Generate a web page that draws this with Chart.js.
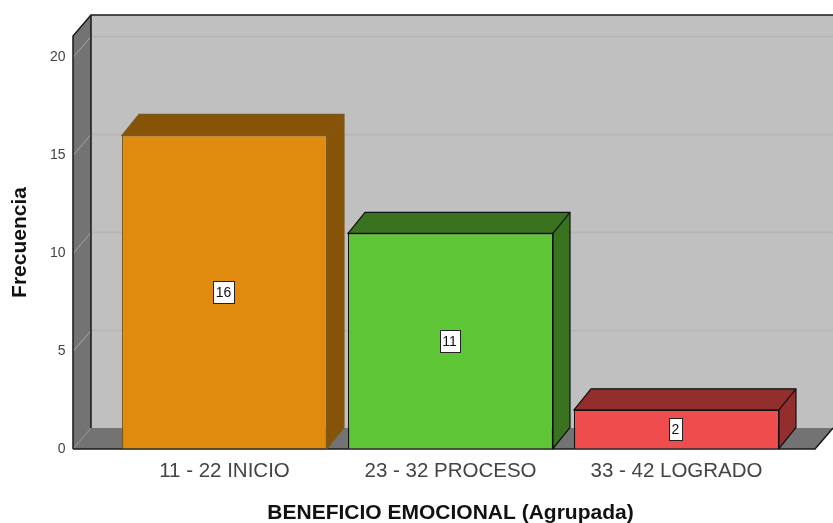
<!DOCTYPE html>
<html>
<head>
<meta charset="utf-8">
<style>
  html, body { margin: 0; padding: 0; background: #fff; overflow: hidden; }
  canvas { display: block; }
</style>
<script src="https://cdn.jsdelivr.net/npm/chart.js@4"></script>
</head>
<body>
<canvas id="Chart" width="833" height="523"></canvas>
<script>
const categories = ["11 - 22 INICIO", "23 - 32 PROCESO", "33 - 42 LOGRADO"];
const frecuencia = [16, 11, 2];
const yTicks = [0, 5, 10, 15, 20];
const frontColors = ["#E08A0E", "#5EC536", "#EF4D4D"];
const sideColors = ["#875407", "#3A7320", "#922E2E"];
const edgeColors = ["#7A5A20", "#111111", "#111111"];

// depth of the fake 3d box
const DX = 18;
const DY = 21;

const walls = {
  id: "walls",
  beforeDatasetsDraw(chart) {
    const { ctx, scales } = chart;
    const y = scales.y;
    const top = y.top;
    const bottom = y.bottom;
    const left = 73;
    const right = 815;

    ctx.save();
    // back wall
    ctx.fillStyle = "#C0C0C0";
    ctx.fillRect(left + DX, top - DY, right - left, bottom - top);

    // left wall
    ctx.fillStyle = "#737373";
    ctx.beginPath();
    ctx.moveTo(left, top);
    ctx.lineTo(left + DX, top - DY);
    ctx.lineTo(left + DX, bottom - DY);
    ctx.lineTo(left, bottom);
    ctx.closePath();
    ctx.fill();

    // floor
    ctx.beginPath();
    ctx.moveTo(left, bottom);
    ctx.lineTo(left + DX, bottom - DY);
    ctx.lineTo(right + DX, bottom - DY);
    ctx.lineTo(right, bottom);
    ctx.closePath();
    ctx.fill();

    // grid lines, back wall and left wall
    yTicks.forEach((t) => {
      if (t === 0) return;
      const py = Math.round(y.getPixelForValue(t)) + 0.5;
      ctx.lineWidth = 2;
      ctx.strokeStyle = "#B6B6B6";
      ctx.beginPath();
      ctx.moveTo(left + DX, py - DY);
      ctx.lineTo(right + DX, py - DY);
      ctx.stroke();
      ctx.lineWidth = 1;
      ctx.strokeStyle = "#A6A6A6";
      ctx.beginPath();
      ctx.moveTo(left, py);
      ctx.lineTo(left + DX, py - DY);
      ctx.stroke();
    });

    // floor seam
    ctx.lineWidth = 1;
    ctx.strokeStyle = "#8E8E8E";
    ctx.beginPath();
    ctx.moveTo(left + 0.5, bottom - 0.5);
    ctx.lineTo(left + DX, bottom - DY);
    ctx.stroke();

    // outlines
    ctx.lineWidth = 1.5;
    ctx.strokeStyle = "#1A1A1A";
    ctx.beginPath();
    ctx.moveTo(left, bottom);
    ctx.lineTo(left, top);
    ctx.lineTo(left + DX, top - DY);
    ctx.lineTo(right + DX, top - DY);
    ctx.moveTo(left + DX, top - DY);
    ctx.lineTo(left + DX, bottom - DY);
    ctx.moveTo(left, bottom);
    ctx.lineTo(right, bottom);
    ctx.lineTo(right + DX, bottom - DY);
    ctx.stroke();

    // bar sides and tops
    chart.getDatasetMeta(0).data.forEach((bar, i) => {
      const x0 = bar.x - bar.width / 2;
      const x1 = bar.x + bar.width / 2;
      const bdx = DX - 1;
      ctx.fillStyle = sideColors[i];
      ctx.strokeStyle = edgeColors[i];
      ctx.lineWidth = 1.2;
      ctx.beginPath();
      ctx.moveTo(x0, bar.y);
      ctx.lineTo(x0 + bdx, bar.y - DY);
      ctx.lineTo(x1 + bdx, bar.y - DY);
      ctx.lineTo(x1 + bdx, bar.base - DY);
      ctx.lineTo(x1, bar.base);
      ctx.lineTo(x1, bar.y);
      ctx.closePath();
      ctx.fill();
      ctx.stroke();
      ctx.beginPath();
      ctx.moveTo(x1, bar.y);
      ctx.lineTo(x1 + bdx, bar.y - DY);
      ctx.stroke();
    });
    ctx.restore();
  },
};

// white value boxes in the middle of each bar
const valueBoxes = {
  id: "valueBoxes",
  afterDatasetsDraw(chart) {
    const { ctx } = chart;
    ctx.save();
    ctx.font = "14px 'Liberation Sans'";
    ctx.textAlign = "center";
    ctx.textBaseline = "middle";
    chart.getDatasetMeta(0).data.forEach((bar, i) => {
      const label = String(frecuencia[i]);
      const w = Math.round(ctx.measureText(label).width) + 5;
      const h = 22;
      const cx = bar.x - 1;
      const cy = (bar.y + bar.base) / 2;
      const bx = Math.round(cx - w / 2) + 0.5;
      const by = Math.round(cy - h / 2) + 0.5;
      ctx.fillStyle = "#FFFFFF";
      ctx.strokeStyle = "#222222";
      ctx.lineWidth = 1;
      ctx.fillRect(bx, by, w, h);
      ctx.strokeRect(bx, by, w, h);
      ctx.fillStyle = "#111111";
      ctx.fillText(label, cx, cy + 1);
    });
    ctx.restore();
  },
};

new Chart(document.getElementById("Chart").getContext("2d"), {
  type: "bar",
  data: {
    labels: categories,
    datasets: [
      {
        label: "Frecuencia",
        data: frecuencia,
        backgroundColor: frontColors,
        borderColor: edgeColors,
        borderWidth: 1.2,
        categoryPercentage: 1,
        barPercentage: 0.907,
      },
    ],
  },
  options: {
    responsive: false,
    animation: false,
    layout: { padding: { top: 36, right: 43.5, left: 0, bottom: 0 } },
    plugins: { legend: { display: false }, tooltip: { enabled: false } },
    scales: {
      x: {
        grid: { display: false },
        border: { display: false },
        ticks: {
          color: "#444444",
          font: { family: "'Liberation Sans'", size: 20.5 },
          padding: 2,
          maxRotation: 0,
        },
        title: {
          display: true,
          text: "BENEFICIO EMOCIONAL (Agrupada)",
          color: "#111111",
          font: { family: "'Liberation Sans'", size: 21, weight: "bold", lineHeight: 1 },
          padding: { top: 0, bottom: -1 },
        },
        afterFit(scale) {
          scale.height = 74;
        },
      },
      y: {
        min: 0,
        max: 21.07,
        // invisible long tick marks push the labels out to the side wall
        grid: { drawOnChartArea: false, tickLength: 46, tickColor: "rgba(0,0,0,0)" },
        border: { display: false },
        afterBuildTicks(axis) {
          axis.ticks = yTicks.map((value) => ({ value }));
        },
        ticks: {
          color: "#444444",
          font: { family: "'Liberation Sans'", size: 14 },
          padding: 0,
        },
        title: {
          display: true,
          text: "Frecuencia",
          color: "#111111",
          font: { family: "'Liberation Sans'", size: 21, weight: "bold", lineHeight: 1 },
          padding: { top: 9.5, bottom: 0 },
        },
        afterFit(scale) {
          scale.width = 111.5;
        },
      },
    },
  },
  plugins: [walls, valueBoxes],
});
</script>
</body>
</html>
